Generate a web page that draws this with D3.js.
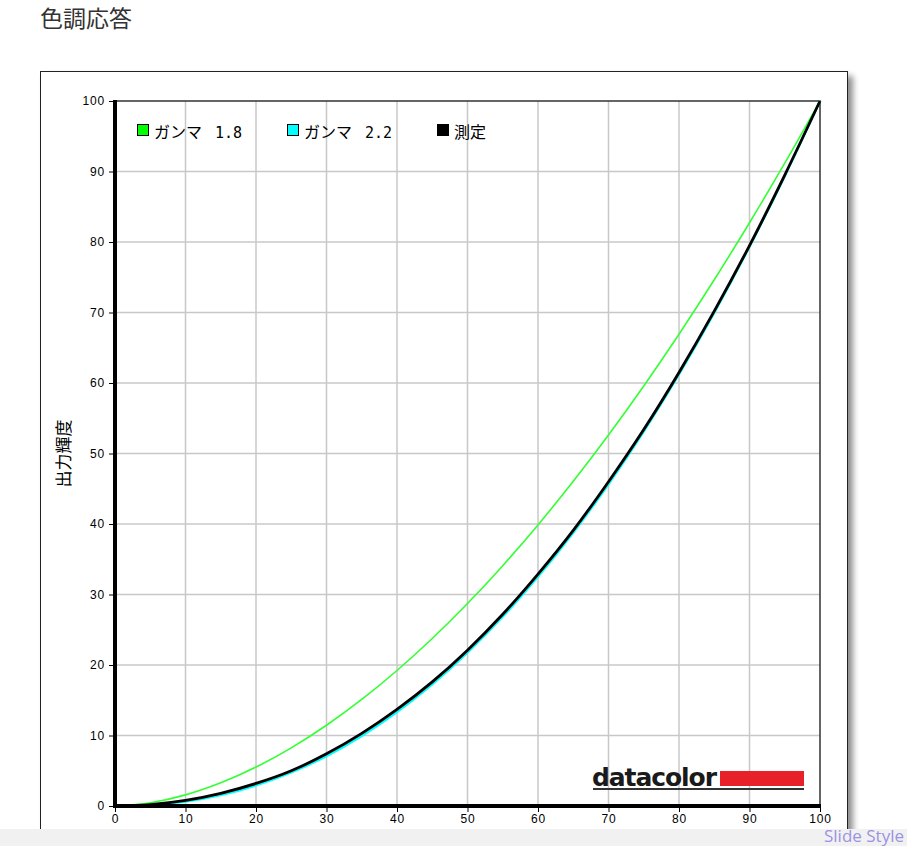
<!DOCTYPE html>
<html><head><meta charset="utf-8">
<script src="https://cdn.jsdelivr.net/npm/d3@7"></script>
<style>
html,body{margin:0;padding:0;background:#fff;overflow:hidden;}
svg{display:block;}
</style></head>
<body>
<svg id="c" width="907" height="846"></svg>
<script>
const inputLevels = [0,5,10,15,20,25,30,35,40,45,50,55,60,65,70,75,80,85,90,95,100];
const gamma18 = [0,0.46,1.58,3.29,5.52,8.25,11.45,15.11,19.22,23.76,28.72,34.09,39.87,46.05,52.62,59.58,66.92,74.64,82.73,91.18,100];
const gamma22 = [0,0.14,0.63,1.54,2.90,4.74,7.07,9.93,13.32,17.26,21.76,26.84,32.50,38.76,45.63,53.11,61.21,69.94,79.31,89.33,100];
const measured = [0,0.2,0.8,1.8,3.2,5.0,7.4,10.3,13.7,17.6,22.1,27.2,32.9,39.1,46.0,53.4,61.5,70.2,79.5,89.5,100];
const xTicks = [0,10,20,30,40,50,60,70,80,90,100];
const yTicks = [0,10,20,30,40,50,60,70,80,90,100];
const legendNames = ["ガンマ","ガンマ","測定"];
const legendValues = ["1.8","2.2",""];
const legendColors = ["#00ff00","#00ffff","#000000"];

const svg = d3.select("#c");
const defs = svg.append("defs");
const f = defs.append("filter").attr("id","sh").attr("x","-5%").attr("y","-5%").attr("width","115%").attr("height","115%");
f.append("feGaussianBlur").attr("in","SourceAlpha").attr("stdDeviation",3);
f.append("feOffset").attr("dx",5).attr("dy",5).attr("result","o");
f.append("feComponentTransfer").append("feFuncA").attr("type","linear").attr("slope",0.45);
const m = f.append("feMerge"); m.append("feMergeNode"); m.append("feMergeNode").attr("in","SourceGraphic");

// title
svg.append("text").attr("x",40).attr("y",27).attr("font-family","'Noto Sans CJK JP','Noto Sans',sans-serif")
  .attr("font-size",23).attr("fill","#333").text("色調応答");

// outer frame
svg.append("rect").attr("x",40.5).attr("y",71.5).attr("width",807).attr("height",790)
  .attr("fill","#fff").attr("stroke","#222").attr("stroke-width",1).attr("filter","url(#sh)");

const x = d3.scaleLinear().domain([0,100]).range([115,820]);
const y = d3.scaleLinear().domain([0,100]).range([806,101]);

// grid
const g = svg.append("g");
g.selectAll("line.vx").data(xTicks.filter(d=>d>0&&d<100)).join("line")
  .attr("x1",d=>x(d)).attr("x2",d=>x(d)).attr("y1",y(0)).attr("y2",y(100))
  .attr("stroke","#c8c8c8").attr("stroke-width",1.5);
g.selectAll("line.hy").data(yTicks.filter(d=>d>0&&d<100)).join("line")
  .attr("y1",d=>y(d)).attr("y2",d=>y(d)).attr("x1",x(0)).attr("x2",x(100))
  .attr("stroke","#c8c8c8").attr("stroke-width",1.5);

// top/right border
svg.append("path").attr("d",`M${x(0)},${y(100)}H${x(100)}V${y(0)}`).attr("fill","none").attr("stroke","#333").attr("stroke-width",1.5);

// datacolor logo
const lg = svg.append("g");
lg.append("text").attr("x",592).attr("y",786).attr("font-family","'DejaVu Sans',sans-serif").attr("font-weight","bold")
  .attr("font-size",25).attr("letter-spacing",-1).attr("fill","#1a1a1a").attr("textLength",124).text("datacolor");
lg.append("rect").attr("x",720).attr("y",771).attr("width",84).attr("height",15).attr("fill","#e8202a");
lg.append("rect").attr("x",593).attr("y",788).attr("width",211).attr("height",2).attr("fill","#333");

// lines
const line = d3.line().x((d,i)=>x(inputLevels[i])).y(d=>y(d)).curve(d3.curveMonotoneX);
svg.append("path").datum(gamma18).attr("d",line).attr("fill","none").attr("stroke","#33ff33").attr("stroke-width",1.6);
svg.append("path").datum(gamma22).attr("d",line).attr("fill","none").attr("stroke","#00ffff").attr("stroke-width",2.2);
svg.append("path").datum(measured).attr("d",line).attr("fill","none").attr("stroke","#000").attr("stroke-width",2.8);

// axes
const tickFont = "'Liberation Sans',Arial,sans-serif";
const ax = svg.append("g").attr("transform",`translate(0,${y(0)})`)
  .call(d3.axisBottom(x).tickValues(xTicks).tickSize(6).tickPadding(2));
const ay = svg.append("g").attr("transform",`translate(${x(0)},0)`)
  .call(d3.axisLeft(y).tickValues(yTicks).tickSize(6).tickPadding(4));
[ax,ay].forEach(a=>{
  a.select(".domain").remove();
  a.selectAll(".tick line").attr("stroke","#000").attr("stroke-width",1);
  a.selectAll(".tick text").attr("font-family",tickFont).attr("font-size",12).attr("letter-spacing",0.8).attr("fill","#000");
});
svg.append("line").attr("x1",x(0)).attr("x2",x(0)).attr("y1",y(100)-1).attr("y2",y(0)+2).attr("stroke","#000").attr("stroke-width",4);
svg.append("line").attr("x1",x(0)-2).attr("x2",x(100)+1).attr("y1",y(0)).attr("y2",y(0)).attr("stroke","#000").attr("stroke-width",4);

// y axis title
svg.append("text").attr("transform",`translate(70,${(y(0)+y(100))/2}) rotate(-90)`).attr("text-anchor","middle")
  .attr("font-family","'Noto Sans CJK JP',sans-serif").attr("font-size",17).attr("fill","#000").text("出力輝度");

// legend
const leg = svg.append("g");
const lx = [137,287,437];
legendNames.forEach((t,i)=>{
  leg.append("rect").attr("x",lx[i]+0.5).attr("y",124.5).attr("width",11).attr("height",11)
    .attr("fill",legendColors[i]).attr("stroke","#000").attr("stroke-width",1);
  leg.append("text").attr("x",lx[i]+17).attr("y",138).attr("font-family","'Noto Sans CJK JP',sans-serif")
    .attr("font-size",16).attr("fill","#000").text(t);
  if (legendValues[i]) {
    leg.append("text").attr("x",lx[i]+78).attr("y",138).attr("font-family","'DejaVu Sans Mono',monospace")
      .attr("font-size",15).attr("fill","#000").text(legendValues[i]);
  }
});

// bottom bar
svg.append("rect").attr("x",0).attr("y",829).attr("width",907).attr("height",17).attr("fill","#f1f1f1");
svg.append("text").attr("x",904).attr("y",842).attr("text-anchor","end").attr("font-family","'Open Sans',sans-serif")
  .attr("font-size",17).attr("fill","#9b93e3").text("Slide Style");
</script>
</body></html>
